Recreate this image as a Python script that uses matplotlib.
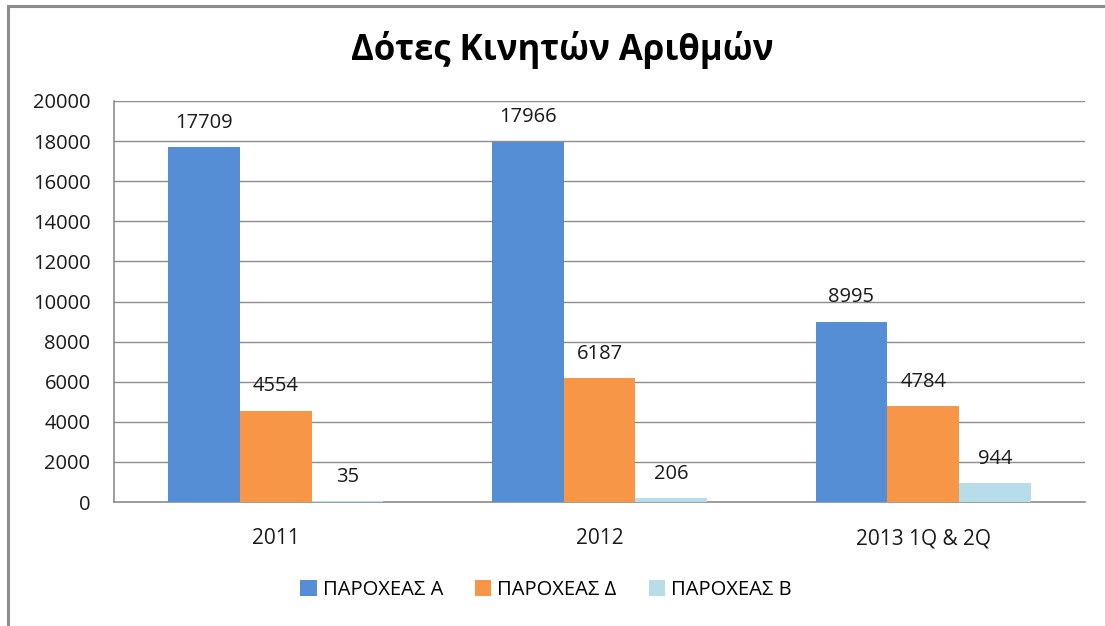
import numpy as np
import matplotlib.pyplot as plt
from matplotlib.patches import Rectangle

categories = ['2011', '2012', '2013 1Q & 2Q']
series_names = ['ΠΑΡΟΧΕΑΣ Α', 'ΠΑΡΟΧΕΑΣ Δ', 'ΠΑΡΟΧΕΑΣ Β']
provider_a = [17709, 17966, 8995]
provider_d = [4554, 6187, 4784]
provider_b = [35, 206, 944]
colors = ['#558ED5', '#F79646', '#B7DEE8']

plt.rcParams['font.family'] = ['Open Sans', 'DejaVu Sans']

fig = plt.figure(figsize=(11.05, 6.26), dpi=100)
W, H = 1105, 626
ax = fig.add_axes([114 / W, 1 - 502 / H, (1085 - 114) / W, (502 - 101) / H])

# outer chart frame (cut off at right and bottom like the screenshot)
fig.patches.append(Rectangle((8 / W, -0.1), 1.2, 1 - 6 / H + 0.1, transform=fig.transFigure,
                             fill=False, edgecolor='#8c8c8c', linewidth=2.2))

x = np.arange(len(categories))
width = 0.2215
for i, (vals, name, col) in enumerate(zip([provider_a, provider_d, provider_b], series_names, colors)):
    pos = x + (i - 1) * width
    ax.bar(pos, vals, width, color=col, label=name, zorder=3)
    for p, v in zip(pos, vals):
        ax.annotate(str(v), (p, v), xytext=(0, 17.5), textcoords='offset points', ha='center',
                    va='center', fontsize=14.5, color='#1a1a1a')

ax.set_xlim(-0.5, 2.5)
ax.set_ylim(0, 20000)
ax.set_yticks(np.arange(0, 20001, 2000))
ax.set_xticks(x)
ax.set_xticklabels(categories)
ax.tick_params(axis='both', length=0, labelsize=14.5, colors='#1a1a1a')
ax.tick_params(axis='x', pad=19, labelsize=15)
ax.tick_params(axis='y', pad=17)
ax.grid(axis='y', color='#8c8c8c', linewidth=1, zorder=0)
for s in ['top', 'right']:
    ax.spines[s].set_visible(False)
for s in ['left', 'bottom']:
    ax.spines[s].set_color('#8c8c8c')
    ax.spines[s].set_linewidth(1.2)

fig.text(562 / W, 1 - 50 / H, 'Δότες Κινητών Αριθμών', ha='center', va='center',
         fontsize=25, fontweight='bold')

fig.legend(loc='center', bbox_to_anchor=(546 / W, 1 - 590 / H), ncol=3, frameon=False,
           fontsize=14.5, handlelength=0.8, handleheight=0.8, columnspacing=1.6, handletextpad=0.3)

fig.savefig('out.png', dpi=100)
